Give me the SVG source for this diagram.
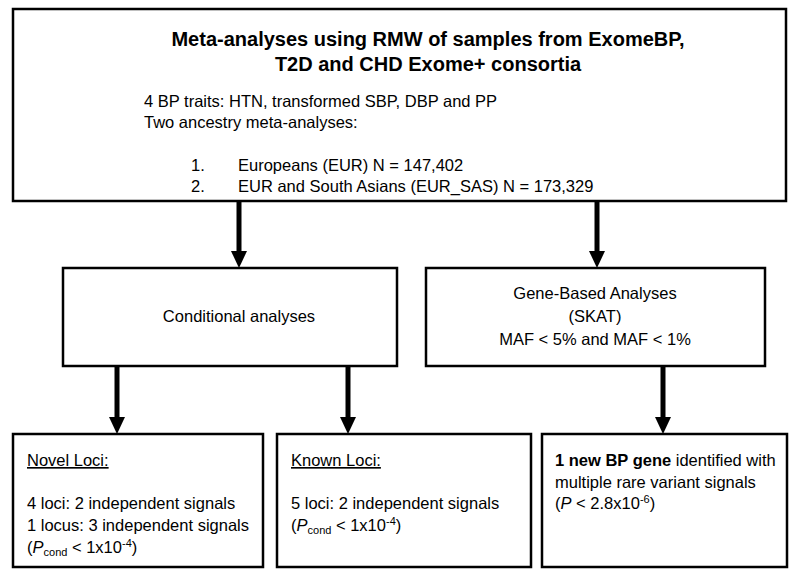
<svg xmlns="http://www.w3.org/2000/svg" width="800" height="577" viewBox="0 0 800 577">
<style>
.box{fill:#fff;stroke:#000;stroke-width:2.5}
.t{font-family:"Liberation Sans",Arial,sans-serif;font-size:16.5px;fill:#000}
.title{font-family:"Liberation Sans",Arial,sans-serif;font-size:20px;font-weight:bold;fill:#000}
.c{text-anchor:middle}
.shaft{stroke:#000;stroke-width:5;fill:none}
.head{fill:#000}
</style>
<rect width="800" height="577" fill="#fff"/>
<g id="connectors">
<line class="shaft" x1="239" y1="201" x2="239" y2="253"/>
<path class="head" d="M231,251 L247,251 L239,268 Z"/>
<line class="shaft" x1="597" y1="201" x2="597" y2="253"/>
<path class="head" d="M589,251 L605,251 L597,268 Z"/>
<line class="shaft" x1="117" y1="366" x2="117" y2="419"/>
<path class="head" d="M109,417 L125,417 L117,434 Z"/>
<line class="shaft" x1="348" y1="366" x2="348" y2="419"/>
<path class="head" d="M340,417 L356,417 L348,434 Z"/>
<line class="shaft" x1="663" y1="366" x2="663" y2="419"/>
<path class="head" d="M655,417 L671,417 L663,434 Z"/>
</g>
<g id="top">
<rect class="box" x="13" y="9" width="773" height="192"/>
<text class="title c" x="428" y="46">Meta-analyses using RMW of samples from ExomeBP,</text>
<text class="title c" x="428" y="71">T2D and CHD Exome+ consortia</text>
<text class="t" x="144" y="107">4 BP traits: HTN, transformed SBP, DBP and PP</text>
<text class="t" x="144" y="128">Two ancestry meta-analyses:</text>
<text class="t" x="191" y="171">1.</text>
<text class="t" x="238" y="171">Europeans (EUR) N = 147,402</text>
<text class="t" x="191" y="192">2.</text>
<text class="t" x="238" y="192">EUR and South Asians (EUR_SAS) N = 173,329</text>
</g>
<g id="conditional">
<rect class="box" x="63" y="268" width="334" height="98"/>
<text class="t c" x="239" y="322">Conditional analyses</text>
</g>
<g id="genebased">
<rect class="box" x="426" y="268" width="339" height="98"/>
<text class="t c" x="595" y="299">Gene-Based Analyses</text>
<text class="t c" x="595" y="322">(SKAT)</text>
<text class="t c" x="595" y="345">MAF &lt; 5% and MAF &lt; 1%</text>
</g>
<g id="novel">
<rect class="box" x="13" y="434" width="250" height="133"/>
<text class="t" x="27" y="466" text-decoration="underline">Novel Loci:</text>
<text class="t" x="27" y="509">4 loci: 2 independent signals</text>
<text class="t" x="27" y="531">1 locus: 3 independent signals</text>
<text class="t" x="27" y="553">(<tspan font-style="italic">P</tspan><tspan font-size="11" dy="3">cond</tspan><tspan dy="-3"> &lt; 1x10</tspan><tspan font-size="11" dy="-6">-4</tspan><tspan dy="6">)</tspan></text>
</g>
<g id="known">
<rect class="box" x="277" y="434" width="254" height="133"/>
<text class="t" x="291" y="466" text-decoration="underline">Known Loci:</text>
<text class="t" x="291" y="509">5 loci: 2 independent signals</text>
<text class="t" x="291" y="531">(<tspan font-style="italic">P</tspan><tspan font-size="11" dy="3">cond</tspan><tspan dy="-3"> &lt; 1x10</tspan><tspan font-size="11" dy="-6">-4</tspan><tspan dy="6">)</tspan></text>
</g>
<g id="newgene">
<rect class="box" x="542" y="434" width="245" height="133"/>
<text class="t" x="555" y="466"><tspan font-weight="bold">1 new BP gene</tspan> identified with</text>
<text class="t" x="555" y="488">multiple rare variant signals</text>
<text class="t" x="555" y="509">(<tspan font-style="italic">P</tspan> &lt; 2.8x10<tspan font-size="11" dy="-6">-6</tspan><tspan dy="6">)</tspan></text>
</g>
</svg>
